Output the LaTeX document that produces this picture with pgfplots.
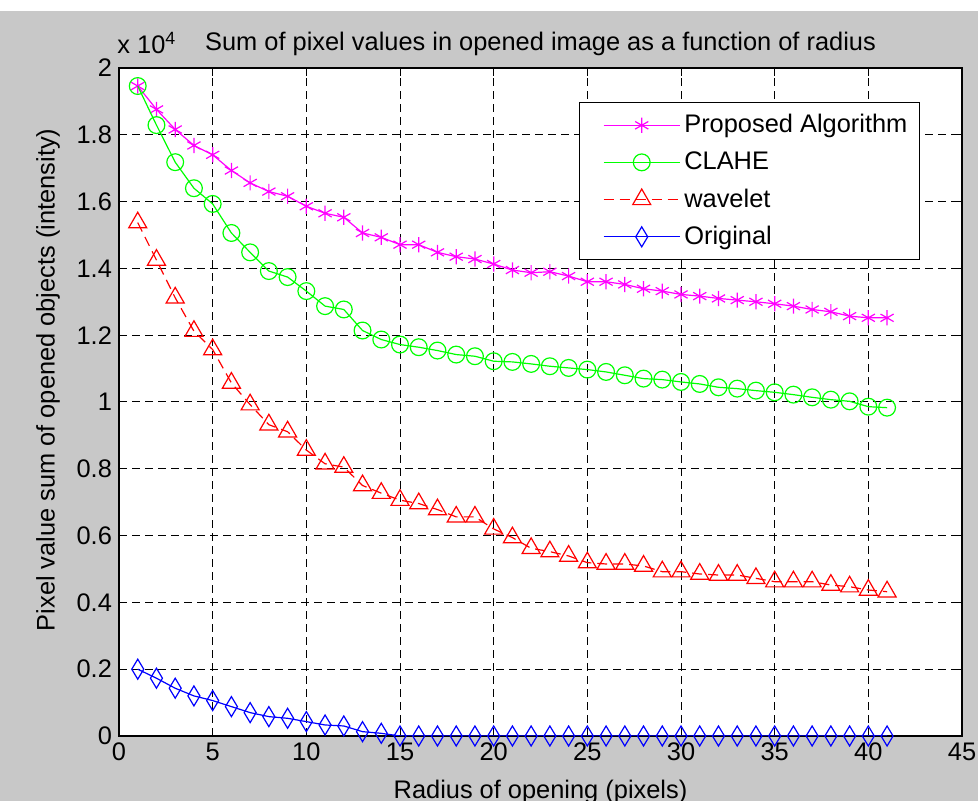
\documentclass[border=0pt]{standalone}
\usepackage{fontspec}
\setmainfont{Liberation Sans}
\usepackage{pgfplots}
\pgfplotsset{compat=1.18}
\definecolor{figgray}{RGB}{200,200,200}
\definecolor{mgreen}{RGB}{0,255,0}
\definecolor{mmagenta}{RGB}{255,0,255}
\definecolor{mred}{RGB}{255,0,0}
\definecolor{mblue}{RGB}{0,0,255}
\newcommand{\ff}{\fontsize{12.7}{15}\selectfont}

\begin{document}
\begin{tikzpicture}[x=1pt,y=1pt]
% figure background (1 px = 0.5pt)
\useasboundingbox (0,0) rectangle (489,400.5);
\fill[figgray] (0,0) rectangle (489,395);
\begin{axis}[
  at={(59.5pt,32.5pt)}, anchor=south west,
  scale only axis,
  width=421.5pt, height=334pt,
  xmin=0, xmax=45, ymin=0, ymax=2,
  clip mode=individual,
  xtick={0,5,...,45},
  ytick={0,0.2,...,2},
  yticklabels={0,0.2,0.4,0.6,0.8,1,1.2,1.4,1.6,1.8,2},
  axis background/.style={fill=white},
  grid=major,
  major grid style={black, line width=0.5pt, dash pattern=on 4pt off 2.5pt},
  tick align=inside,
  major tick length=4pt,
  tick style={black, line width=0.5pt},
  axis line style={black, line width=0.6pt},
  /pgf/number format/assume math mode=true,
  tick label style={font=\ff},
  label style={font=\ff},
  title style={font=\ff, at={(0.5,1)}, anchor=south, yshift=-3.5pt},
  title={Sum of pixel values in opened image as a function of radius},
  xlabel={Radius of opening (pixels)},
  xlabel style={at={(axis description cs:0.5,0)}, anchor=north, yshift=-18.5pt},
  ylabel={Pixel value sum of opened objects (intensity)},
  ylabel style={at={(axis description cs:0,0.533)}, anchor=south, yshift=26pt},
  legend cell align=left,
  legend style={at={(1,1)}, anchor=north east, xshift=-21pt, yshift=-17pt,
    draw=black, line width=0.6pt, fill=white,
    font=\ff, inner xsep=4pt, inner ysep=4pt,
    row sep=4pt},
  legend image code/.code={%
    \path (0pt,0pt);
    \draw[mark repeat=2, mark phase=2] plot coordinates {(8pt,0pt) (27pt,0pt) (46pt,0pt)};},
]
\addplot[mmagenta, line width=0.6pt, mark=asterisk, mark size=3.8pt, mark options={solid}] coordinates {
(1,1.946) (2,1.876) (3,1.816) (4,1.768) (5,1.740) (6,1.693) (7,1.656) (8,1.630)
(9,1.616) (10,1.586) (11,1.565) (12,1.553) (13,1.506) (14,1.493) (15,1.471)
(16,1.471) (17,1.448) (18,1.435) (19,1.428) (20,1.413) (21,1.395) (22,1.387)
(23,1.390) (24,1.377) (25,1.360) (26,1.360) (27,1.352) (28,1.339) (29,1.332)
(30,1.322) (31,1.317) (32,1.310) (33,1.305) (34,1.300) (35,1.294) (36,1.287)
(37,1.277) (38,1.270) (39,1.257) (40,1.252) (41,1.252)};
\addlegendentry{Proposed Algorithm}
\addplot[mgreen, line width=0.6pt, mark=o, mark size=4.2pt, mark options={solid}] coordinates {
(1,1.946) (2,1.829) (3,1.718) (4,1.640) (5,1.593) (6,1.506) (7,1.448) (8,1.392)
(9,1.374) (10,1.332) (11,1.287) (12,1.277) (13,1.214) (14,1.187) (15,1.172)
(16,1.164) (17,1.154) (18,1.142) (19,1.137) (20,1.122) (21,1.120) (22,1.114)
(23,1.107) (24,1.102) (25,1.097) (26,1.090) (27,1.080) (28,1.070) (29,1.067)
(30,1.060) (31,1.054) (32,1.044) (33,1.040) (34,1.034) (35,1.029) (36,1.022)
(37,1.014) (38,1.007) (39,1.002) (40,0.986) (41,0.983)};
\addlegendentry{CLAHE}
\addplot[mred, line width=0.6pt, dash pattern=on 5pt off 3pt, mark=triangle, mark size=5.2pt, mark options={solid}] coordinates {
(1,1.537) (2,1.425) (3,1.312) (4,1.212) (5,1.157) (6,1.057) (7,0.992) (8,0.932)
(9,0.911) (10,0.856) (11,0.815) (12,0.805) (13,0.750) (14,0.727) (15,0.706)
(16,0.696) (17,0.678) (18,0.656) (19,0.656) (20,0.620) (21,0.594) (22,0.562)
(23,0.552) (24,0.539) (25,0.519) (26,0.515) (27,0.515) (28,0.509) (29,0.492)
(30,0.492) (31,0.485) (32,0.482) (33,0.482) (34,0.472) (35,0.462) (36,0.462)
(37,0.462) (38,0.452) (39,0.447) (40,0.437) (41,0.432)};
\addlegendentry{wavelet}
\addplot[mblue, line width=0.6pt, mark=diamond, mark size=5pt, mark options={solid, xscale=0.8}] coordinates {
(1,0.200) (2,0.173) (3,0.143) (4,0.120) (5,0.106) (6,0.088) (7,0.070) (8,0.058)
(9,0.053) (10,0.043) (11,0.033) (12,0.030) (13,0.013) (14,0.008) (15,0) (16,0)
(17,0) (18,0) (19,0) (20,0) (21,0) (22,0) (23,0) (24,0) (25,0) (26,0) (27,0)
(28,0) (29,0) (30,0) (31,0) (32,0) (33,0) (34,0) (35,0) (36,0) (37,0) (38,0)
(39,0) (40,0) (41,0)};
\addlegendentry{Original}
\node[anchor=south west, inner sep=0pt, font=\ff]
  at ([xshift=-1pt,yshift=7pt]rel axis cs:0,1) {x 10\textsuperscript{4}};
\end{axis}
\end{tikzpicture}
\end{document}
